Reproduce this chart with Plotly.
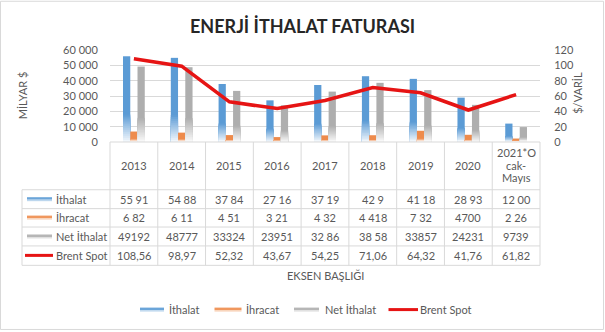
import plotly.graph_objects as go

# ---- data -------------------------------------------------------------
categories = ["2013", "2014", "2015", "2016", "2017", "2018", "2019", "2020",
              "2021*Ocak-Mayıs"]
header_lines = [["2013"], ["2014"], ["2015"], ["2016"], ["2017"], ["2018"],
                ["2019"], ["2020"], ["2021*O", "cak-", "Mayıs"]]

ithalat = [55910, 54880, 37840, 27160, 37190, 42900, 41180, 28930, 12000]
ihracat = [6820, 6110, 4510, 3210, 4320, 4418, 7320, 4700, 2260]
net_ithalat = [49192, 48777, 33324, 23951, 32860, 38580, 33857, 24231, 9739]
brent_spot = [108.56, 98.97, 52.32, 43.67, 54.25, 71.06, 64.32, 41.76, 61.82]

ithalat_text = ["55 91", "54 88", "37 84", "27 16", "37 19", "42 9", "41 18",
                "28 93", "12 00"]
ihracat_text = ["6 82", "6 11", "4 51", "3 21", "4 32", "4 418", "7 32",
                "4700", "2 26"]
net_text = ["49192", "48777", "33324", "23951", "32 86", "38 58", "33857",
            "24231", "9739"]
brent_text = [f"{v:.2f}".replace(".", ",") for v in brent_spot]

series_names = ["İthalat", "İhracat", "Net İthalat", "Brent Spot"]

# ---- style ------------------------------------------------------------
W, H = 605, 332
L, R, T, B = 110, 540, 49.5, 142          # plot area in pixels
FONT = "Lato"
TXT = "#595959"
GRID = "#D9D9D9"
BLUE, ORANGE, GRAY, RED = "#5B9BD5", "#EE8B4C", "#AEAEAE", "#E61414"


def px(x):
    return (x - L) / (R - L)


def py(y):
    return (B - y) / (B - T)


def mix(c, t):
    """Blend colour c with white; t=1 gives c, t=0 gives white."""
    r, g, b = (int(c[i:i + 2], 16) for i in (1, 3, 5))
    return "rgb(%d,%d,%d)" % tuple(round(255 + (v - 255) * t) for v in (r, g, b))


fig = go.Figure()

# gradient bars: full-height solid bar, then progressively shorter and
# lighter bars drawn over its lower part so the base fades toward white
FADE, STEPS = 0.32, 14
for grp, (vals, col) in enumerate([(ithalat, BLUE), (ihracat, ORANGE),
                                   (net_ithalat, GRAY)]):
    layers = [(1.0, 1.0)]
    for k in range(STEPS - 1, -1, -1):
        top = FADE * (k + 1) / STEPS
        t = 0.06 + 0.94 * (k + 0.5) / STEPS
        layers.append((top, t))
    for frac, t in layers:
        fig.add_trace(go.Bar(
            x=categories, y=[v * frac for v in vals], offsetgroup=str(grp),
            marker=dict(color=mix(col, t), line=dict(width=0)),
            showlegend=False, hoverinfo="skip"))

fig.add_trace(go.Scatter(
    x=categories, y=brent_spot, yaxis="y2", mode="lines",
    line=dict(color=RED, width=3.6), showlegend=False, hoverinfo="skip"))

shapes, annos = [], []


def hline(y, x0, x1, color=GRID, w=1):
    shapes.append(dict(type="line", xref="paper", yref="paper",
                       x0=px(x0), x1=px(x1), y0=py(y), y1=py(y),
                       line=dict(color=color, width=w)))


def vline(x, y0, y1):
    shapes.append(dict(type="line", xref="paper", yref="paper",
                       x0=px(x), x1=px(x), y0=py(y0), y1=py(y1),
                       line=dict(color=GRID, width=1)))


def rect(x0, y0, x1, y1, color):
    shapes.append(dict(type="rect", xref="paper", yref="paper",
                       x0=px(x0), x1=px(x1), y0=py(y0), y1=py(y1),
                       line=dict(width=0), fillcolor=color))


def text(x, y, s, size=11, color=TXT, xanchor="center", **kw):
    annos.append(dict(xref="paper", yref="paper", x=px(x), y=py(y), text=s,
                      showarrow=False, xanchor=xanchor, yanchor="middle",
                      font=dict(family=FONT, size=size, color=color), **kw))


def key(x0, x1, yc, col):
    """Small gradient swatch used as a legend key for a bar series."""
    rect(x0, yc - 2, x1, yc + 0.5, mix(col, 0.9))
    rect(x0, yc + 0.5, x1, yc + 2, mix(col, 0.4))


# outer chart border
shapes.append(dict(type="rect", xref="paper", yref="paper",
                   x0=px(0.5), x1=px(W - 1.5), y0=py(0.5), y1=py(H - 1.5),
                   line=dict(color=GRID, width=1)))

# data table grid
n = len(categories)
col_w = (R - L) / n
row_lines = [190, 209, 227.5, 246.5, 266]
hline(B, L, R)
for y in row_lines:
    hline(y, 22, R)
for i in range(n + 1):
    vline(L + i * col_w, B, row_lines[-1])
vline(22, row_lines[0], row_lines[-1])

# header row
for i, lines in enumerate(header_lines):
    cx = L + (i + 0.5) * col_w
    if len(lines) == 1:
        text(cx, 165.5, lines[0])
    else:
        for j, s in enumerate(lines):
            text(cx, 153 + 12.4 * j, s)

# body rows with legend keys
row_y = [199.5, 218, 237, 256]
row_vals = [ithalat_text, ihracat_text, net_text, brent_text]
for r, (yy, vals) in enumerate(zip(row_y, row_vals)):
    for i, s in enumerate(vals):
        text(L + (i + 0.5) * col_w, yy, s)
    text(53.5, yy, series_names[r], xanchor="left")
for yy, col in zip(row_y[:3], [BLUE, ORANGE, GRAY]):
    key(27, 52, yy, col)
hline(row_y[3], 25, 53, RED, 3)

# x axis title
text(325.5, 276.5, "EKSEN BAŞLIĞI")

# bottom legend
leg = [(140, 164, 167, BLUE), (214.5, 241.5, 243.5, ORANGE),
       (294, 319, 322.5, GRAY), (388.5, 418, 418, RED)]
for (k0, k1, tx, col), name in zip(leg, series_names):
    if col == RED:
        hline(310.5, k0, k1, RED, 3)
    else:
        key(k0, k1, 310.5, col)
    text(tx, 310, name, xanchor="left")

# title and axis titles
text(302.5, 25, "<b>ENERJİ İTHALAT FATURASI</b>", size=18, color="#262626")
text(22, 95, "MİLYAR $", textangle=-90)
text(577.5, 93, "$/VARİL", textangle=-90)

fig.update_layout(
    width=W, height=H, autosize=False,
    margin=dict(l=L, r=W - R, t=T, b=H - B, pad=0),
    paper_bgcolor="white", plot_bgcolor="white",
    separators=", ",
    barmode="group", bargap=0.545, bargroupgap=0,
    showlegend=False,
    font=dict(family=FONT, size=11, color=TXT),
    xaxis=dict(type="category", range=[-0.5, n - 0.5], showticklabels=False,
               showgrid=False, zeroline=False, showline=False, ticks=""),
    yaxis=dict(range=[0, 60000], dtick=10000, tickformat=",",
               showgrid=True, gridcolor=GRID, gridwidth=1, zeroline=False,
               showline=False, ticks="outside", ticklen=9,
               tickcolor="rgba(0,0,0,0)",
               tickfont=dict(family=FONT, size=11, color=TXT)),
    yaxis2=dict(range=[0, 120], dtick=20, overlaying="y", side="right",
                showgrid=False, zeroline=False, showline=False,
                ticks="outside", ticklen=11, tickcolor="rgba(0,0,0,0)",
                tickfont=dict(family=FONT, size=11, color=TXT)),
    shapes=shapes, annotations=annos,
)

fig.write_html("out.html")
